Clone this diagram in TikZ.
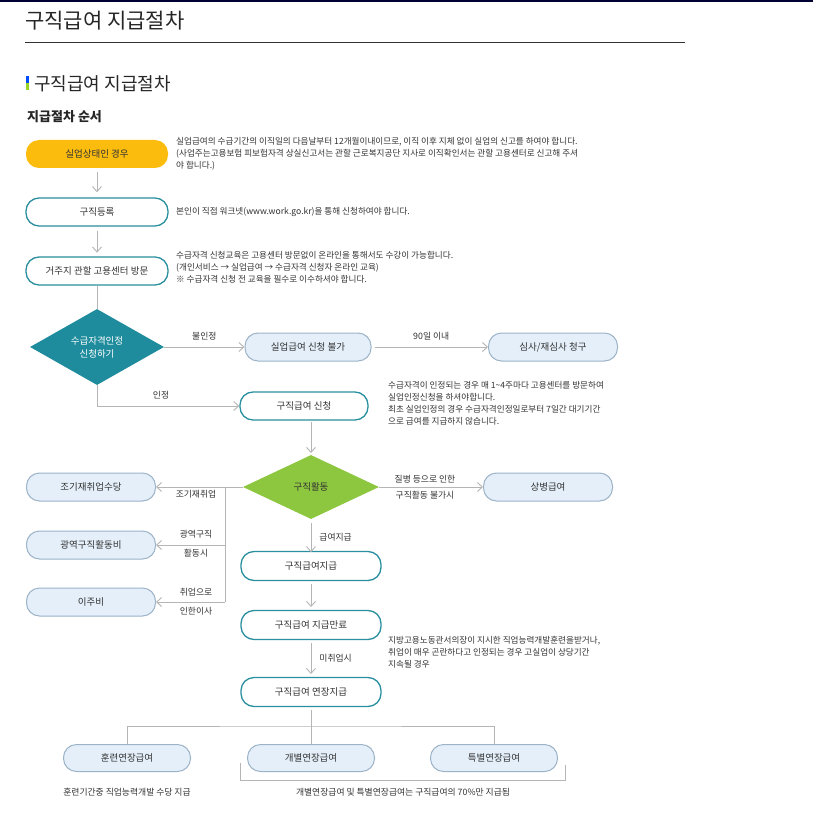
\documentclass[tikz,border=0pt]{standalone}
\usepackage{fontspec}
\setmainfont{Noto Sans CJK KR}
\usetikzlibrary{arrows.meta,shapes.geometric}
\definecolor{teal1}{HTML}{1E8C9C}
\definecolor{tealb}{HTML}{2A8F9E}
\definecolor{yel}{HTML}{FBBC0E}
\definecolor{lblue}{HTML}{E4EFF9}
\definecolor{lbord}{HTML}{9DB3C7}
\definecolor{grn}{HTML}{8DC63F}
\definecolor{ln}{HTML}{B5B5B5}
\definecolor{txt}{HTML}{333333}
\tikzset{
  pill/.style={rounded corners=13pt, minimum height=28pt, inner sep=0pt, font=\fontsize{9.5}{10}\selectfont, text=txt},
  wbox/.style={pill, draw=tealb, line width=1.3pt, fill=white},
  bbox/.style={pill, draw=lbord, line width=1pt, fill=lblue},
  note/.style={anchor=north west, align=left, font=\fontsize{8.6}{12}\selectfont, text=txt, inner sep=0pt},
  lab/.style={font=\fontsize{8.8}{10}\selectfont, text=txt, inner sep=0pt},
  con/.style={draw=ln, line width=0.9pt},
  arr/.style={con, -{Straight Barb[length=5pt,width=9pt]}},
}
\begin{document}
\begin{tikzpicture}[x=1pt,y=-1pt]
\useasboundingbox (0,0) rectangle (813,813);
\fill[white] (0,0) rectangle (813,813);
\fill[black!80!blue] (0,0) rectangle (813,2);
\node[anchor=west, font=\fontsize{21}{22}\selectfont, text=black!85, inner sep=0pt] (title) at (25,21) {구직급여 지급절차};
\draw[black!80, line width=0.8pt] (25,42) -- (685,42);
\fill[blue!70!cyan] (26,76) rectangle (29,83);
\fill[yellow!60!green] (26,83) rectangle (29,90);
\node[anchor=west, font=\fontsize{18}{18}\selectfont, text=black!85, inner sep=0pt] (sec) at (34,84) {구직급여 지급절차};
\node[anchor=west, font=\bfseries\fontsize{13}{14}\selectfont, text=black!85, inner sep=0pt] (sub) at (27,117) {지급절차 순서};

\node[pill, fill=yel, minimum width=142pt] (b1) at (97,154) {실업상태인 경우};
\node[note] (n1) at (176,137) {실업급여의 수급기간의 이직일의 다음날부터 12개월이내이므로, 이직 이후 지체 없이 실업의 신고를 하여야 합니다.\\(사업주는고용보험 피보험자격 상실신고서는 관할 근로복지공단 지사로 이직확인서는 관할 고용센터로 신고해 주셔\\야 합니다.)};
\node[wbox, minimum width=142pt] (b2) at (97,212) {구직등록};
\node[note, anchor=west] (n2) at (176,212) {본인이 직접 워크넷(www.work.go.kr)을 통해 신청하여야 합니다.};
\node[wbox, minimum width=142pt] (b3) at (97,271) {거주지 관할 고용센터 방문};
\node[note] (n3) at (176,251) {수급자격 신청교육은 고용센터 방문없이 온라인을 통해서도 수강이 가능합니다.\\(개인서비스 → 실업급여 → 수급자격 신청자 온라인 교육)\\※ 수급자격 신청 전 교육을 필수로 이수하셔야 합니다.};
\draw[arr] (b1.south) ++(0,4) -- ++(0,20);
\draw[arr] (b2.south) ++(0,4) -- ++(0,22);

\node[diamond, fill=teal1, minimum width=134pt, minimum height=76pt, aspect=1.76, inner sep=0pt, align=center, text=white, font=\fontsize{9.5}{13}\selectfont] (d1) at (97,347) {수급자격인정\\신청하기};
\draw[con] (b3.south) -- (d1.north);
\node[bbox, minimum width=126pt] (b4) at (308,347) {실업급여 신청 불가};
\node[bbox, minimum width=129pt] (b5) at (553,347) {심사/재심사 청구};
\draw[arr] (d1.east) -- (b4.west) node[lab, pos=0.5, above=6pt] (l1) {불인정};
\draw[arr] (b4.east) ++(3,0) -- (b5.west) node[lab, midway, above=6pt] (l2) {90일 이내};

\node[wbox, minimum width=128pt] (b6) at (304,406) {구직급여 신청};
\node[note] (n4) at (388,381) {수급자격이 인정되는 경우 매 1\textasciitilde4주마다 고용센터를 방문하여\\실업인정신청을 하셔야합니다.\\최초 실업인정의 경우 수급자격인정일로부터 7일간 대기기간\\으로 급여를 지급하지 않습니다.};
\coordinate (c1) at (97,406);
\draw[arr] (d1.south) -- (c1) -- (b6.west) node[lab, pos=0.45, above=6pt] (l3) {인정};

\node[diamond, fill=grn, minimum width=136pt, minimum height=64pt, aspect=2.1, inner sep=0pt, text=txt, font=\fontsize{9.5}{10}\selectfont] (d2) at (311,487) {구직활동};
\coordinate (a1) at (311,422);
\coordinate (a2) at (311,453);
\draw[arr] (a1) -- (a2);
\node[bbox, minimum width=129pt] (b7) at (548,487) {상병급여};
\draw[arr] (d2.east) -- (b7.west);
\node[lab] (l4) at (425,479) {질병 등으로 인한};
\node[lab] (l5) at (425,495) {구직활동 불가시};

\node[bbox, minimum width=129pt] (b8) at (91,487) {조기재취업수당};
\node[bbox, minimum width=129pt] (b9) at (91,545) {광역구직활동비};
\node[bbox, minimum width=129pt] (b10) at (91,602) {이주비};
\draw[arr] (d2.west) -- (b8.east);
\coordinate (vtop) at (225,487);
\coordinate (vbot) at (225,602);
\draw[con] (vtop) -- (vbot);
\draw[arr] (225,545) -- (b9.east);
\draw[arr] (vbot) -- (b10.east);
\node[lab] (l6) at (196,494) {조기재취업};
\node[lab] (l7) at (196,534) {광역구직};
\node[lab] (l8) at (196,553) {활동시};
\node[lab] (l9) at (196,592) {취업으로};
\node[lab] (l10) at (196,611) {인한이사};

\node[wbox, minimum width=140pt, minimum height=29pt] (b11) at (311,566) {구직급여지급};
\node[wbox, minimum width=140pt, minimum height=29pt] (b12) at (311,625) {구직급여 지급만료};
\node[wbox, minimum width=140pt, minimum height=29pt] (b13) at (311,692) {구직급여 연장지급};
\draw[arr] (d2.south) ++(0,4) -- ++(0,29) node[lab, midway, right=8pt] (l11) {급여지급};
\draw[arr] (b11.south) ++(0,3) -- (311,607);
\draw[arr] (b12.south) ++(0,3) -- (311,674) node[lab, midway, right=8pt] (l12) {미취업시};
\node[note] (n5) at (388,636) {지방고용노동관서의장이 지시한 직업능력개발훈련을받거나,\\취업이 매우 곤란하다고 인정되는 경우 고실업이 상당기간\\지속될 경우};

\node[bbox, minimum width=127pt, minimum height=27pt] (b14) at (127,758) {훈련연장급여};
\node[bbox, minimum width=127pt, minimum height=27pt] (b15) at (311,758) {개별연장급여};
\node[bbox, minimum width=127pt, minimum height=27pt] (b16) at (494,758) {특별연장급여};
\coordinate (t0) at (311,726);
\draw[con] (b13.south) ++(0,3) -- (t0);
\draw[con] (b14.north) |- (t0) -| (b16.north);
\draw[con] (t0) -- (b15.north);
\draw[con, line width=0.6pt] (240,763) -- (240,780) -- (565,780) -- (565,765);
\node[lab] (c1t) at (127,792) {훈련기간중 직업능력개발 수당 지급};
\node[lab] (c2t) at (403,792) {개별연장급여 및 특별연장급여는 구직급여의 70\%만 지급됨};
\end{tikzpicture}
\end{document}
